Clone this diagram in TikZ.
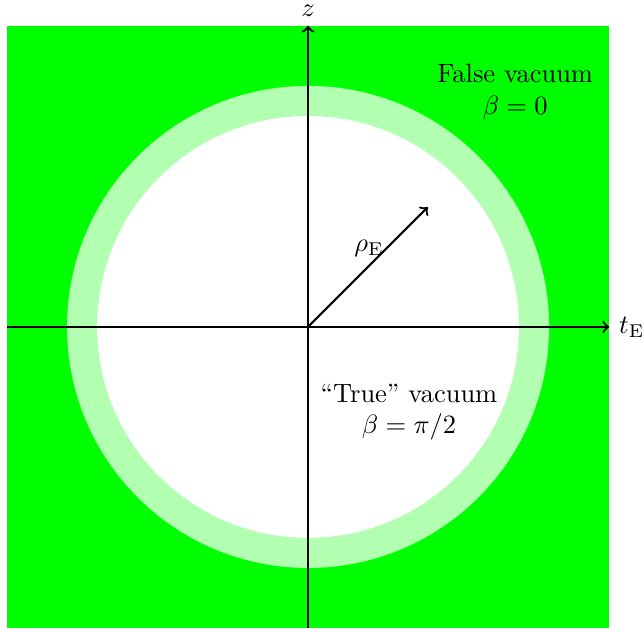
\documentclass[tikz,border=0pt]{standalone}
\usepackage{amsmath,amssymb}
\usepackage{tikz}
\usepackage{xcolor}

\begin{document}
\begin{tikzpicture}[x=1cm,y=1cm]
\useasboundingbox (-4.09,-4) rectangle (4.46,4.34);
\fill[green] (-4,-4) rectangle (4,4);
\fill[green!30] (0,0) circle (3.2);
\fill[white] (0,0) circle (2.8);
\coordinate (left) at (-4,0);
\coordinate (right) at (4,0);
\coordinate (bottom) at (0,-4);
\coordinate (top) at (0,4);
\coordinate (origin) at (0,0);
\coordinate (rhoend) at (45:2.25);
\draw[thick,->] (left) -- (right) node[right] (tE) {$t_\mathrm{E}$};
\draw[thick,->] (bottom) -- (top) node[above,inner sep=0pt,yshift=0.3em] (z) {$z$};
\draw[thick,->] (origin) -- (rhoend);
\node (rho) at (0.81,1.04) {$\rho_\mathrm{E}$};
\node[align=center] (false) at (2.75,3.12) {False vacuum\\ $\beta=0$};
\node[align=center] (true) at (1.34,-1.13) {``True'' vacuum\\ $\beta=\pi/2$};
\end{tikzpicture}
\end{document}
